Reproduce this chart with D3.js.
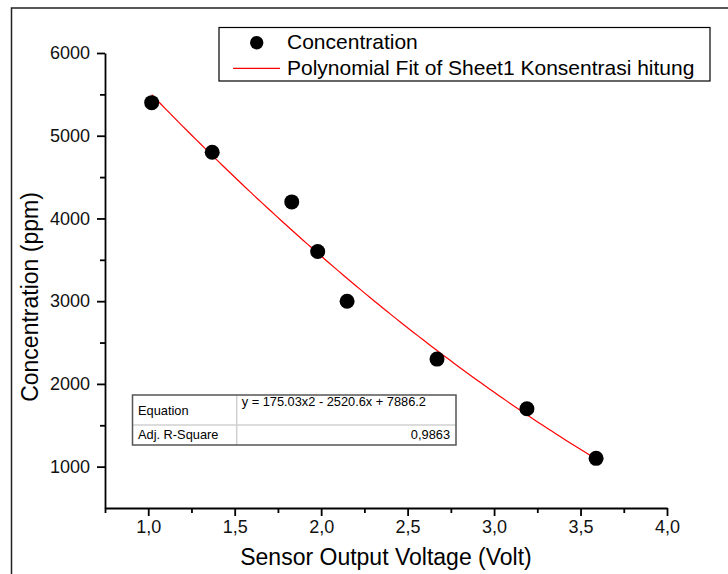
<!DOCTYPE html>
<html>
<head>
<meta charset="utf-8">
<script src="https://cdn.jsdelivr.net/npm/d3@7/dist/d3.min.js"></script>
<style>
  body { margin: 0; background: #fff; }
  svg { display: block; font-family: Arial, "Liberation Sans", sans-serif; }
</style>
</head>
<body>
<div id="viz"></div>
<script>
/*
* Concentration vs sensor output voltage
*/
// measured points
var voltage = [1.02, 1.37, 1.83, 1.98, 2.15, 2.67, 3.19, 3.59];
var concentration = [5400, 4800, 4200, 3600, 3000, 2300, 1700, 1100];
// fit y = c0 + c1 x + c2 x^2 (from the chart's table)
var fitCoef = [7886.2, -2520.6, 175.03];
var fitRange = [1.02, 3.59];
var xTicks = [1.0, 1.5, 2.0, 2.5, 3.0, 3.5, 4.0];
var xMinor = [0.75, 1.25, 1.75, 2.25, 2.75, 3.25, 3.75];
var yTicks = [1000, 2000, 3000, 4000, 5000, 6000];
var yMinor = [1500, 2500, 3500, 4500, 5500];
var legendLabels = ['Concentration', 'Polynomial Fit of Sheet1 Konsentrasi hitung'];
var tableRows = [['Equation', 'y = 175.03x2 - 2520.6x + 7886.2'], ['Adj. R-Square', '0,9863']];

(function () {
  'use strict';

  var W = 728, H = 574;
  var svg = d3.select('#viz').append('svg')
    .attr('width', W)
    .attr('height', H);

  // outer frame (only top and left are visible)
  svg.append('path')
    .attr('d', 'M11.5,' + H + 'V8H' + W)
    .attr('fill', 'none')
    .attr('stroke', '#222')
    .attr('stroke-width', 1.5);

  var x = d3.scaleLinear().domain([0.75, 4.0]).range([105, 667]);
  var y = d3.scaleLinear().domain([500, 6000]).range([508, 53]);

  var fmtX = function (d) { return d.toFixed(1).replace('.', ','); };

  // minor ticks
  svg.append('g')
    .attr('transform', 'translate(0,' + y(500) + ')')
    .call(d3.axisBottom(x).tickValues(xMinor).tickSize(5).tickFormat(''))
    .call(function (g) { g.select('.domain').remove(); })
    .selectAll('line').attr('stroke-width', 1.5);
  svg.append('g')
    .attr('transform', 'translate(' + x(0.75) + ',0)')
    .call(d3.axisLeft(y).tickValues(yMinor).tickSize(5).tickFormat(''))
    .call(function (g) { g.select('.domain').remove(); })
    .selectAll('line').attr('stroke-width', 1.5);

  // major axes
  var gx = svg.append('g')
    .attr('transform', 'translate(0,' + y(500) + ')')
    .call(d3.axisBottom(x).tickValues(xTicks).tickSize(8).tickSizeOuter(0).tickPadding(4).tickFormat(fmtX));
  gx.selectAll('text').attr('font-size', 18).attr('font-family', 'Arial, "Liberation Sans", sans-serif').attr('fill', '#111');
  var gy = svg.append('g')
    .attr('transform', 'translate(' + x(0.75) + ',0)')
    .call(d3.axisLeft(y).tickValues(yTicks).tickSize(8).tickSizeOuter(0).tickPadding(7).tickFormat(d3.format('d')));
  gy.selectAll('text').attr('font-size', 18).attr('font-family', 'Arial, "Liberation Sans", sans-serif').attr('fill', '#111');
  svg.selectAll('.domain, .tick line').attr('stroke', '#000').attr('stroke-width', 1.8);

  // axis titles
  svg.append('text')
    .attr('x', (x.range()[0] + x.range()[1]) / 2)
    .attr('y', 565)
    .attr('text-anchor', 'middle')
    .attr('font-size', 23)
    .text('Sensor Output Voltage (Volt)');
  svg.append('text')
    .attr('transform', 'translate(38,297) rotate(-90)')
    .attr('text-anchor', 'middle')
    .attr('font-size', 23)
    .text('Concentration (ppm)');

  // fitted curve
  var xs = d3.range(0, 101).map(function (i) {
    return fitRange[0] + (fitRange[1] - fitRange[0]) * i / 100;
  });
  var line = d3.line()
    .x(function (d) { return x(d); })
    .y(function (d) { return y(fitCoef[0] + fitCoef[1] * d + fitCoef[2] * d * d); });
  svg.append('path')
    .datum(xs)
    .attr('d', line)
    .attr('fill', 'none')
    .attr('stroke', '#ff0000')
    .attr('stroke-width', 1.2);

  // points
  svg.append('g').selectAll('circle')
    .data(voltage)
    .enter().append('circle')
    .attr('cx', function (d) { return x(d); })
    .attr('cy', function (d, i) { return y(concentration[i]); })
    .attr('r', 7.5)
    .attr('fill', '#000');

  // legend
  var lg = svg.append('g');
  lg.append('rect')
    .attr('x', 219).attr('y', 27.5)
    .attr('width', 491).attr('height', 53.5)
    .attr('fill', '#fff')
    .attr('stroke', '#000')
    .attr('stroke-width', 1.2);
  lg.append('circle').attr('cx', 256.7).attr('cy', 42.7).attr('r', 6.7).attr('fill', '#000');
  lg.append('line')
    .attr('x1', 233).attr('x2', 280).attr('y1', 68.3).attr('y2', 68.3)
    .attr('stroke', '#ff0000').attr('stroke-width', 1.2);
  lg.selectAll('text.lbl')
    .data(legendLabels)
    .enter().append('text')
    .attr('class', 'lbl')
    .attr('x', 287)
    .attr('y', function (d, i) { return i ? 75 : 49.3; })
    .attr('font-size', 21)
    .text(function (d) { return d; });

  // fit result table
  var tb = svg.append('g');
  var tx0 = 132.5, tx1 = 236.7, tx2 = 456, ty0 = 395, ty1 = 425, ty2 = 445;
  tb.append('rect')
    .attr('x', tx0).attr('y', ty0)
    .attr('width', tx2 - tx0).attr('height', ty2 - ty0)
    .attr('fill', '#fff');
  tb.append('line').attr('x1', tx1).attr('x2', tx1).attr('y1', ty0).attr('y2', ty2)
    .attr('stroke', '#d0d0d0').attr('stroke-width', 1.5);
  tb.append('line').attr('x1', tx0).attr('x2', tx2).attr('y1', ty1).attr('y2', ty1)
    .attr('stroke', '#d0d0d0').attr('stroke-width', 1.5);
  tb.append('rect')
    .attr('x', tx0).attr('y', ty0)
    .attr('width', tx2 - tx0).attr('height', ty2 - ty0)
    .attr('fill', 'none')
    .attr('stroke', '#555')
    .attr('stroke-width', 1.5);
  tb.append('text').attr('x', 138).attr('y', 415).attr('font-size', 12.8).text(tableRows[0][0]);
  tb.append('text').attr('x', 241.7).attr('y', 406).attr('font-size', 12.8).text(tableRows[0][1]);
  tb.append('text').attr('x', 138).attr('y', 438.5).attr('font-size', 12.8).text(tableRows[1][0]);
  tb.append('text').attr('x', 450).attr('y', 438.5).attr('font-size', 12.8)
    .attr('text-anchor', 'end').text(tableRows[1][1]);
})();
</script>
</body>
</html>
